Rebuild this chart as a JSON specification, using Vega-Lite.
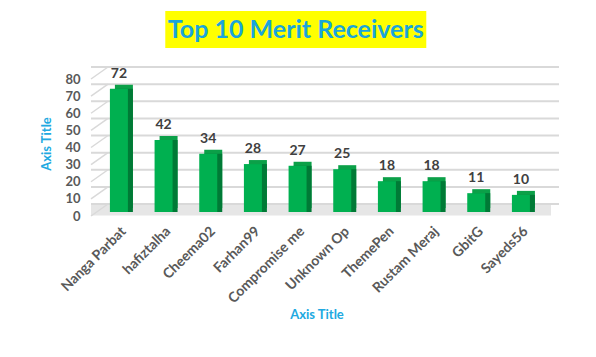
{
  "$schema": "https://vega.github.io/schema/vega-lite/v6.json",
  "padding": {"left": 40, "top": 11, "right": 0, "bottom": 0},
  "background": "white",
  "datasets": {
    "title": [{"t": "Top 10 Merit Receivers"}],
    "merits": [
      {"name": "Nanga Parbat", "merit": 72},
      {"name": "hafiztalha", "merit": 42},
      {"name": "Cheema02", "merit": 34},
      {"name": "Farhan99", "merit": 28},
      {"name": "Compromise me", "merit": 27},
      {"name": "Unknown Op", "merit": 25},
      {"name": "ThemePen", "merit": 18},
      {"name": "Rustam Meraj", "merit": 18},
      {"name": "GbitG", "merit": 11},
      {"name": "Sayeds56", "merit": 10}
    ],
    "grid": [{"v": 0}, {"v": 10}, {"v": 20}, {"v": 30}, {"v": 40}, {"v": 50}, {"v": 60}, {"v": 70}, {"v": 80}],
    "floor": [{"v": 0}]
  },
  "vconcat": [
    {
      "width": 261,
      "height": 37,
      "view": {"fill": "#FFFF00", "stroke": null},
      "data": {"name": "title"},
      "layer": [
        {
          "mark": {"type": "text", "font": "Lato", "fontSize": 25, "fontWeight": "bold", "color": "#1AA5DB"},
          "encoding": {"text": {"field": "t"}}
        },
        {
          "mark": {"type": "text", "font": "Lato", "fontSize": 25, "fontWeight": "bold", "opacity": 0, "dx": 62},
          "encoding": {"text": {"field": "t"}}
        }
      ]
    },
    {
      "width": 451,
      "height": 137,
      "view": {"stroke": null},
      "encoding": {
        "x": {
          "field": "name", "type": "nominal", "sort": null,
          "scale": {"paddingInner": 0.597, "paddingOuter": 0.347, "align": 0.61},
          "axis": {
            "title": "Axis Title", "labelAngle": -45, "ticks": false, "domain": false,
            "labelPadding": 12, "labelFontSize": 14, "labelFontWeight": "bold", "labelColor": "#595959",
            "titleColor": "#21A9E1", "titleFontSize": 13, "titleFontWeight": "bold", "titlePadding": 3
          }
        },
        "y": {"field": "v", "type": "quantitative", "scale": {"domain": [0, 80], "nice": false}, "axis": {
            "title": "Axis Title", "grid": false, "domain": false, "ticks": false, "values": [0, 10, 20, 30, 40, 50, 60, 70, 80],
            "labelOverlap": false, "labelPadding": 11, "labelOffset": 4, "labelFontSize": 13, "labelFontWeight": "bold", "labelColor": "#595959",
            "titleColor": "#21A9E1", "titleFontSize": 13, "titleFontWeight": "bold", "titlePadding": 11
        }}
      },
      "layer": [
        {
          "data": {"name": "floor"},
          "mark": {"type": "rule", "color": "#E6E6E6", "strokeWidth": 11, "xOffset": 9, "x2Offset": 6, "yOffset": -2},
          "encoding": {"x": null}
        },
        {
          "data": {"name": "grid"},
          "mark": {"type": "rule", "color": "#D9D9D9", "strokeWidth": 2, "xOffset": 17, "x2Offset": 12, "yOffset": -8},
          "encoding": {"x": null}
        },
        {
          "data": {"name": "grid"},
          "mark": {"type": "rule", "color": "#D9D9D9", "strokeWidth": 1.5, "yOffset": 4, "y2Offset": -8},
          "encoding": {"x": {"value": 0}, "x2": {"value": 17}, "y2": {"field": "v"}}
        },
        {
          "data": {"name": "merits"},
          "mark": {"type": "tick", "size": 24, "thickness": 6, "xOffset": 17, "yOffset": -4,
            "color": {"gradient": "linear", "x1": 0, "x2": 1, "y1": 0, "y2": 0, "stops": [{"offset": 0, "color": "#4A4A4A"}, {"offset": 1, "color": "#E6E6E6"}]}},
          "encoding": {"y": {"datum": 0, "type": "quantitative"}}
        },
        {
          "data": {"name": "merits"},
          "mark": {"type": "bar", "color": "#0BA048", "xOffset": 5, "yOffset": -4, "y2Offset": -4},
          "encoding": {"y": {"field": "merit", "type": "quantitative"}}
        },
        {
          "data": {"name": "merits"},
          "mark": {"type": "bar", "color": "#007A36", "xOffset": 5, "y2Offset": -4},
          "encoding": {"y": {"field": "merit", "type": "quantitative"}}
        },
        {
          "data": {"name": "merits"},
          "mark": {"type": "bar", "color": "#00B050"},
          "encoding": {"y": {"field": "merit", "type": "quantitative"}}
        },
        {
          "data": {"name": "merits"},
          "mark": {"type": "text", "font": "Lato", "fontSize": 14, "fontWeight": "bold", "color": "#404040", "baseline": "middle", "dy": -15},
          "encoding": {"y": {"field": "merit", "type": "quantitative"}, "text": {"field": "merit"}}
        }
      ]
    }
  ],
  "spacing": 18,
  "center": true,
  "config": {
    "font": "Lato",
    "axis": {"labelFont": "Lato", "titleFont": "Lato"},
    "axisY": {"labelOverlap": false}
  }
}
